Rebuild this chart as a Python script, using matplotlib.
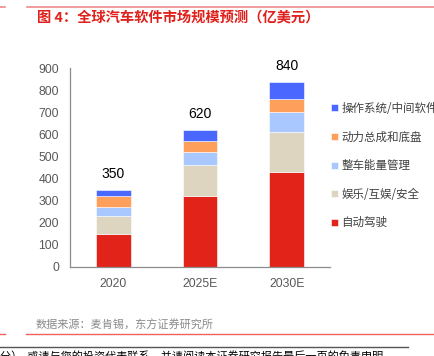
import matplotlib
matplotlib.use('Agg')
import matplotlib.pyplot as plt
import numpy as np
from matplotlib.lines import Line2D

plt.rcParams['font.family'] = ['Noto Sans CJK SC', 'DejaVu Sans']

years = ['2020', '2025E', '2030E']
series = ['自动驾驶', '娱乐/互娱/安全', '整车能量管理', '动力总成和底盘', '操作系统/中间软件']
auto = [150, 320, 430]
ent = [80, 140, 180]
energy = [40, 60, 90]
power = [50, 50, 60]
os_sw = [30, 50, 80]
totals = [350, 620, 840]
colors = ['#E2231A', '#DDD5C0', '#A9C8FF', '#FF9F5C', '#4A67FF']

fig = plt.figure(figsize=(4.35, 3.56), dpi=100)
ax = fig.add_axes([0.161, 0.2508, 0.5976, 0.5573])

x = np.arange(len(years))
bottom = np.zeros(len(years))
bars = []
for vals, name, c in zip([auto, ent, energy, power, os_sw], series, colors):
    b = ax.bar(x, vals, width=0.4, bottom=bottom, color=c, label=name,
               edgecolor='white', linewidth=0.4)
    bars.append(b)
    bottom += np.array(vals)

for xi, t in zip(x, totals):
    ax.annotate(str(t), (xi, t), xytext=(0, 16), textcoords='offset pixels',
                ha='center', va='center', fontsize=10, color='black',
                family=['Liberation Sans', 'DejaVu Sans'])

ax.set_xlim(-0.5, 2.5)
ax.set_ylim(0, 900)
ax.set_yticks(range(0, 901, 100))
ax.set_xticks(x)
ax.set_xticklabels(years)
for s in ['top', 'right']:
    ax.spines[s].set_visible(False)
for s in ['left', 'bottom']:
    ax.spines[s].set_color('#8C8C8C')
    ax.spines[s].set_linewidth(0.9)
ax.tick_params(length=0, colors='#595959', labelsize=8.8)
ax.tick_params(axis='x', pad=8)
ax.tick_params(axis='y', pad=8)
for lab in ax.get_xticklabels() + ax.get_yticklabels():
    lab.set_family(['Liberation Sans', 'DejaVu Sans'])

handles = bars[::-1]
labels = series[::-1]
fig.legend(handles, labels, loc='upper left', bbox_to_anchor=(0.762, 1 - 102 / 356),
           frameon=False, fontsize=8.3, handlelength=0.55, handleheight=0.55,
           handletextpad=0.3, labelspacing=1.35, borderpad=0, borderaxespad=0,
           labelcolor='#404040')

# header / footer decoration
fig.add_artist(Line2D([27 / 435, 1], [1 - 7.3 / 356] * 2, color='#F08A8A', lw=1.2))
fig.add_artist(Line2D([0, 5 / 435], [1 - 7.3 / 356] * 2, color='#F08A8A', lw=1.2))
fig.text(37 / 435, 1 - 18 / 356, '图 4：全球汽车软件市场规模预测（亿美元）',
         color='#E0201B', fontsize=10.3, fontweight='bold', va='center', ha='left')

fig.text(36 / 435, 1 - 325 / 356, '数据来源：麦肯锡，东方证券研究所',
         color='#8A8A8A', fontsize=8, va='center', ha='left')
fig.add_artist(Line2D([26 / 435, 1], [1 - 333.7 / 356] * 2, color='#F06060', lw=1.0))
fig.add_artist(Line2D([0, 5 / 435], [1 - 333.7 / 356] * 2, color='#F06060', lw=1.0))
fig.add_artist(Line2D([0, 408 / 435], [1 - 346.7 / 356] * 2, color='#555555', lw=1.0))
fig.text(0, 1 - 356 / 356, '分）  或请与您的投资代表联系，并请阅读本证券研究报告最后一页的免责申明。',
         color='black', fontsize=8, va='center', ha='left')

fig.savefig('out.png', dpi=100)
